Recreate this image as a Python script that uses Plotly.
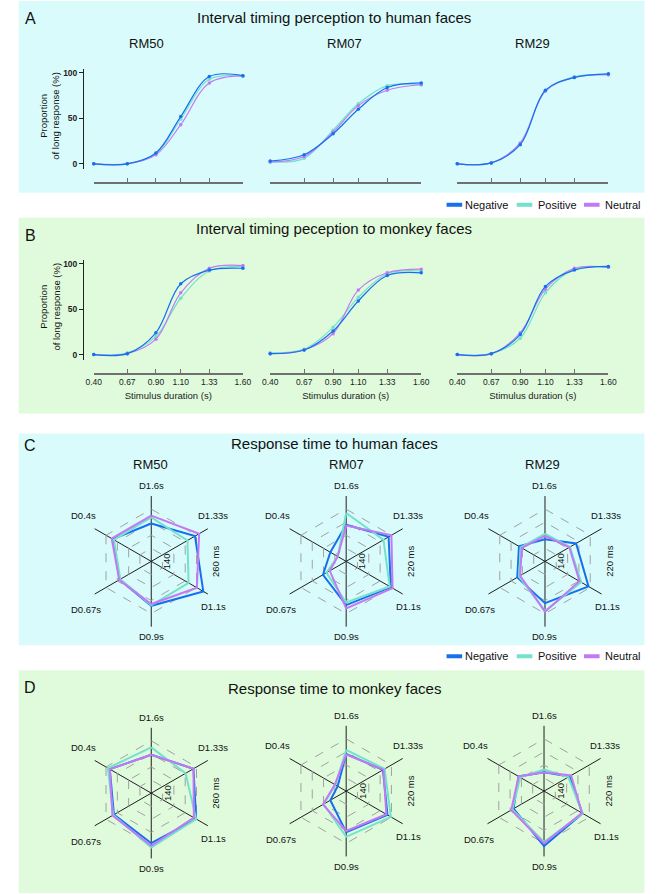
import plotly.graph_objects as go

W, H = 669, 894

durations = [0.40, 0.67, 0.90, 1.10, 1.33, 1.60]
dur_labels = ["0.40", "0.67", "0.90", "1.10", "1.33", "1.60"]
subjects = ["RM50", "RM07", "RM29"]
conditions = ["Negative", "Positive", "Neutral"]
colors = {"Negative": "#1570ef", "Positive": "#72e2cb", "Neutral": "#c27af4"}

# proportion of long responses (%), human faces
human_rm50 = {"Negative": [0, 0, 12, 52, 96, 97],
              "Positive": [0, 0, 11, 49, 93, 96],
              "Neutral": [0, 0, 10, 43, 89, 97]}
human_rm07 = {"Negative": [3, 10, 33, 60, 84, 89],
              "Positive": [2, 6, 37, 66, 86, 87],
              "Neutral": [2, 8, 35, 64, 81, 87]}
human_rm29 = {"Negative": [0, 1, 21, 81, 95, 99],
              "Positive": [0, 1, 22, 80, 96, 98],
              "Neutral": [0, 1, 23, 80, 95, 98]}

# proportion of long responses (%), monkey faces
monkey_rm50 = {"Negative": [0, 1, 24, 78, 93, 95],
               "Positive": [0, 2, 20, 62, 92, 97],
               "Neutral": [0, 1, 17, 68, 95, 98]}
monkey_rm07 = {"Negative": [1, 5, 26, 59, 87, 90],
               "Positive": [2, 6, 30, 63, 89, 92],
               "Neutral": [1, 5, 23, 71, 90, 94]}
monkey_rm29 = {"Negative": [0, 1, 22, 75, 93, 97],
               "Positive": [0, 1, 18, 68, 94, 96],
               "Neutral": [0, 1, 24, 72, 95, 96]}

# response times (ms) for radar plots
radar_axes = ["D1.6s", "D1.33s", "D1.1s", "D0.9s", "D0.67s", "D0.4s"]
rt_human_rm50 = {"Negative": [197, 226, 248, 212, 194, 212],
                 "Positive": [211, 206, 209, 211, 192, 209],
                 "Neutral": [215, 237, 231, 208, 195, 215]}
rt_human_rm07 = {"Negative": [176, 195, 199, 187, 161, 148],
                 "Positive": [194, 186, 197, 183, 155, 135],
                 "Neutral": [175, 200, 202, 192, 149, 135]}
rt_human_rm29 = {"Negative": [154, 175, 197, 184, 169, 166],
                 "Positive": [162, 164, 184, 196, 166, 163],
                 "Neutral": [159, 163, 181, 197, 164, 161]}
rt_monkey_rm50 = {"Negative": [198, 222, 229, 225, 209, 220],
                  "Positive": [215, 201, 229, 235, 211, 225],
                  "Neutral": [198, 222, 223, 231, 213, 220]}
rt_monkey_rm07 = {"Negative": [177, 185, 193, 183, 148, 135],
                  "Positive": [183, 188, 199, 190, 160, 139],
                  "Neutral": [176, 186, 191, 181, 161, 140]}
rt_monkey_rm29 = {"Negative": [149, 165, 188, 204, 174, 165],
                  "Positive": [153, 163, 188, 198, 176, 162],
                  "Neutral": [149, 168, 187, 200, 178, 165]}

FONT = "Liberation Sans, Arial, sans-serif"


def px_x(p):
    return p / W


def px_y(p):
    return 1 - p / H


fig = go.Figure()
ann = []


def add_text(text, x, y, size, xanchor="center", **kw):
    ann.append(dict(text=text, x=px_x(x), y=px_y(y), xref="paper", yref="paper",
                    xanchor=xanchor, yanchor="middle", showarrow=False,
                    font=dict(size=size, color="#111", family=FONT), **kw))


# backgrounds of the four panels
panels = [(0, 192, "#dafbfb"), (217, 413, "#e0fbdc"), (433, 645, "#dafbfb"), (670, 893, "#e0fbdc")]
for top, bottom, col in panels:
    fig.add_shape(type="rect", xref="paper", yref="paper", x0=px_x(11), x1=px_x(653),
                  y0=px_y(bottom), y1=px_y(top), fillcolor=col, line_width=0, layer="below")

# ---------- psychometric curves ----------
col_x = [(88, 241), (269, 424), (461, 616)]
rows = [(human_rm50, human_rm07, human_rm29), (monkey_rm50, monkey_rm07, monkey_rm29)]
row_y = [(163, 182), (354, 373)]  # pixel of y=0, pixel of x axis line

n = 0
for r, datasets in enumerate(rows):
    y0px, xline = row_y[r]
    for c, data in enumerate(datasets):
        n += 1
        xa = "x" if n == 1 else "x%d" % n
        ya = "y" if n == 1 else "y%d" % n
        for cond in ["Positive", "Neutral", "Negative"]:
            fig.add_trace(go.Scatter(
                x=durations, y=data[cond], mode="lines+markers",
                line=dict(color=colors[cond], width=1.2, shape="spline", smoothing=1.0),
                marker=dict(color=colors[cond], size=3.5),
                showlegend=False, cliponaxis=False, xaxis=xa, yaxis=ya))
        x0, x1 = col_x[c]
        fig.layout["xaxis" if n == 1 else "xaxis%d" % n] = dict(
            domain=[px_x(x0), px_x(x1)], range=[0.4, 1.6], anchor="free", position=px_y(xline),
            tickvals=durations, ticktext=dur_labels, showticklabels=(r == 1),
            ticks="inside", ticklen=4, tickcolor="#707070", showline=True, linecolor="#707070",
            linewidth=1.5, showgrid=False, zeroline=False,
            tickfont=dict(size=8.5, color="#222", family=FONT),
            title=dict(text="Stimulus duration (s)" if r == 1 else "",
                       font=dict(size=9.5, color="#222", family=FONT), standoff=6))
        fig.layout["yaxis" if n == 1 else "yaxis%d" % n] = dict(
            domain=[px_y(y0px + 5), px_y(y0px - 95)], range=[-5.5, 104.4],
            anchor="free", position=px_x(77), visible=(c == 0),
            tickvals=[0, 50, 100], ticks="outside", ticklen=4, tickcolor="#222",
            showline=True, linecolor="#222", linewidth=1, showgrid=False, zeroline=False,
            tickfont=dict(size=8.5, color="#222", family=FONT, weight="bold"))

# ---------- radar plots ----------
radar_sets = [(rt_human_rm50, rt_human_rm07, rt_human_rm29),
              (rt_monkey_rm50, rt_monkey_rm07, rt_monkey_rm29)]
centers = [[(147, 561), (347, 561), (551, 561)], [(147, 793), (347, 791), (550, 791)]]
label_offsets = [(0, -76), (63, -46), (64, 45), (0, 75), (-67, 48), (-70, -46)]
R = 67

p = 0
for r, sets in enumerate(radar_sets):
    for c, data in enumerate(sets):
        p += 1
        key = "polar" if p == 1 else "polar%d" % p
        cx, cy = centers[r][c]
        if c == 0:
            rng, vals, top_lbl = [110, 260], [140, 170, 200, 230, 260], "260 ms"
        else:
            rng, vals, top_lbl = [120, 220], [140, 160, 180, 200, 220], "220 ms"
        for cond in conditions:
            fig.add_trace(go.Scatterpolar(
                r=data[cond] + data[cond][:1], theta=radar_axes + radar_axes[:1],
                mode="lines", line=dict(color=colors[cond], width=2),
                showlegend=False, subplot=key))
        fig.layout[key] = dict(
            domain=dict(x=[px_x(cx - R), px_x(cx + R)], y=[px_y(cy + R), px_y(cy - R)]),
            bgcolor="rgba(0,0,0,0)", gridshape="linear",
            angularaxis=dict(rotation=90, direction="clockwise", gridcolor="#1e1e1e",
                             gridwidth=1, showline=False, ticks="", showticklabels=False),
            radialaxis=dict(range=rng, tickvals=vals, showticklabels=False,
                            showline=False, ticks="", gridcolor="#a0a0a0", griddash="dash",
                            gridwidth=1))
        for lbl, (dx, dy) in zip(radar_axes, label_offsets):
            add_text(lbl, cx + dx, cy + dy, 9.5)
        add_text("140", cx + 16, cy, 9.5, textangle=-90)
        add_text(top_lbl, cx + 66, cy, 9.5, textangle=-90)

# legends (short thick swatches like the original)
legend_x = {"Negative": (450, 467), "Positive": (522, 542), "Neutral": (591, 611)}
for ly in [204, 656]:
    for cond in conditions:
        sx, tx = legend_x[cond]
        fig.add_shape(type="line", xref="paper", yref="paper", x0=px_x(sx), x1=px_x(sx + 16),
                      y0=px_y(ly), y1=px_y(ly), line=dict(color=colors[cond], width=4))
        add_text(cond, tx, ly, 11, xanchor="left")

for letter, y in [("A", 18), ("B", 235), ("C", 445), ("D", 687)]:
    add_text(letter, 23, y, 16)
add_text("Interval timing perception to human faces", 335, 17, 15)
add_text("Interval timing peception to monkey faces", 335, 228, 15)
add_text("Response time to human faces", 335, 443, 15)
add_text("Response time to monkey faces", 335, 688, 15)
for name, x in zip(subjects, [142, 345, 538]):
    add_text(name, x, 43, 13)
for name, x in zip(subjects, [146, 347, 548]):
    add_text(name, x, 464, 13)
for y in [115, 306]:
    add_text("Proportion<br>of long response (%)", 43, y, 9.5, textangle=-90)

fig.update_layout(width=W, height=H, margin=dict(l=0, r=0, t=0, b=0),
                  paper_bgcolor="white", plot_bgcolor="rgba(0,0,0,0)",
                  font=dict(family=FONT), annotations=ann, showlegend=False)

fig.write_html("out.html", config={"displayModeBar": False},
               post_script="document.body.style.margin='0';")
